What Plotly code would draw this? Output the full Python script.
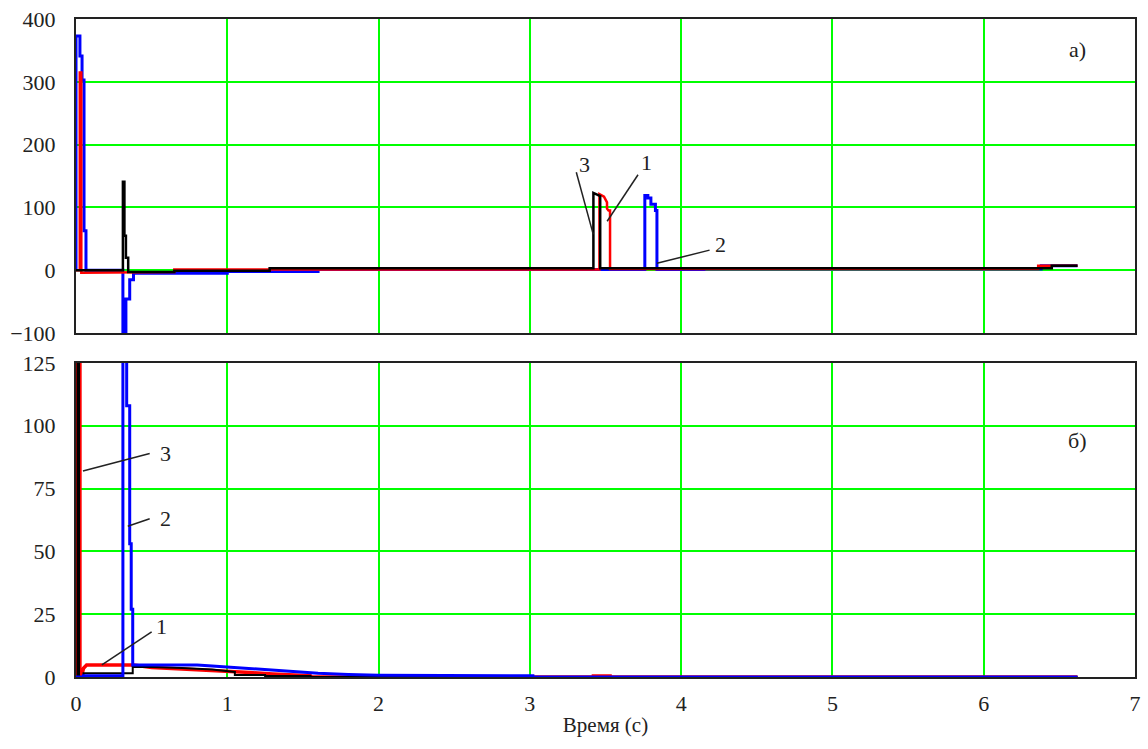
import plotly.graph_objects as go
from plotly.subplots import make_subplots

# ---------------- data: panel a) ----------------
a_t_blue = [0, 0, 0.026, 0.026, 0.04, 0.04, 0.053, 0.053, 0.066, 0.066, 0.31, 0.31, 0.33, 0.33, 0.355, 0.355,
            0.38, 0.38, 1.0, 1.0, 1.6, 1.6, 3.76, 3.76, 3.78, 3.78, 3.80, 3.80, 3.83, 3.83, 3.84, 3.84,
            4.15, 4.15, 6.38, 6.38, 6.62]
a_v_blue = [0, 373, 373, 341, 341, 303, 303, 63, 63, 0, 0, -130, -130, -46, -46, -15,
            -15, -5, -5, -2, -2, 1, 1, 119, 119, 115, 115, 105, 105, 95, 95, 1,
            1, 2, 2, 7, 7]

a_t_red = [0, 0.025, 0.025, 0.035, 0.035, 0.32, 0.32, 0.65, 0.65, 3.46, 3.46, 3.49, 3.51, 3.51, 3.52, 3.52, 3.53,
           3.53, 6.36, 6.36, 6.62]
a_v_red = [0, 0, 315, 315, -4, -4, -3, -3, 1, 1, 121, 117, 108, 98, 95, 95, 95,
           2, 2, 7, 7]

a_t_black = [0, 0.31, 0.31, 0.32, 0.32, 0.33, 0.33, 0.345, 0.345, 0.65, 0.65, 1.28, 1.28, 3.42, 3.42, 3.44, 3.465,
             3.465, 6.45, 6.45, 6.62]
a_v_black = [0, 0, 141, 141, 55, 55, 20, 20, -3, -3, -1, -1, 3, 3, 123, 121, 118,
             3, 3, 7, 7]

# ---------------- data: panel б) ----------------
b_t_red = [0, 0.004, 0.004, 0.026, 0.026, 0.035, 0.05, 0.07, 0.38, 0.5, 0.7, 0.85, 1.0, 1.15, 1.3, 1.45, 1.55,
           1.56, 3.42, 3.42, 3.53, 3.53, 6.62]
b_v_red = [0, 0, 140, 140, 0, 0, 3.5, 4.8, 4.8, 3.8, 3.2, 2.8, 2.4, 1.8, 1.2, 0.8, 0.5,
           0, 0, 0.4, 0.4, 0, 0]

b_t_black = [0, 0.01, 0.01, 0.02, 0.02, 0.05, 0.05, 0.375, 0.375, 0.5, 0.7, 0.9, 1.05, 1.05, 1.25, 1.25, 1.55,
             1.55, 6.62]
b_v_black = [0, 0, 140, 140, 0, 0, 1.5, 1.5, 4, 4, 3.6, 3, 2, 0.8, 0.8, 0.4, 0.4,
             0, 0]

b_t_blue = [0, 0.05, 0.05, 0.31, 0.31, 0.335, 0.335, 0.355, 0.355, 0.365, 0.365, 0.375, 0.375, 0.8, 0.9, 1.05,
            1.15, 1.3, 1.45, 1.6, 1.8, 2.0, 3.02, 3.02, 6.62]
b_v_blue = [0, 0, 0.5, 0.5, 140, 140, 108, 108, 53, 53, 27, 27, 4.8, 4.8, 4.4, 3.8,
            3.2, 2.6, 2.0, 1.5, 1.0, 0.7, 0.5, 0, 0]

a_yticks = [-100, 0, 100, 200, 300, 400]
b_yticks = [0, 25, 50, 75, 100, 125]
x_ticks = [0, 1, 2, 3, 4, 5, 6, 7]

BLUE = "#0000ff"
RED = "#ff0000"
BLACK = "#000000"
GRID = "#00ff00"
FONT = "'Liberation Serif', 'DejaVu Serif', serif"

fig = make_subplots(rows=2, cols=1, vertical_spacing=0.0455, shared_xaxes=False)

# panel a (top) : blue, red, black on top
fig.add_trace(go.Scatter(x=a_t_blue, y=a_v_blue, mode="lines", line=dict(color=BLUE, width=3), showlegend=False), row=1, col=1)
fig.add_trace(go.Scatter(x=a_t_red, y=a_v_red, mode="lines", line=dict(color=RED, width=2.5), showlegend=False), row=1, col=1)
fig.add_trace(go.Scatter(x=a_t_black, y=a_v_black, mode="lines", line=dict(color=BLACK, width=2.5), showlegend=False), row=1, col=1)

# panel b (bottom)
fig.add_trace(go.Scatter(x=b_t_red, y=b_v_red, mode="lines", line=dict(color=RED, width=3.5), showlegend=False), row=2, col=1)
fig.add_trace(go.Scatter(x=b_t_black, y=b_v_black, mode="lines", line=dict(color=BLACK, width=2), showlegend=False), row=2, col=1)
fig.add_trace(go.Scatter(x=b_t_blue, y=b_v_blue, mode="lines", line=dict(color=BLUE, width=3), showlegend=False), row=2, col=1)

axis_common = dict(showline=True, linecolor="#222222", linewidth=2, mirror=True,
                   showgrid=True, gridcolor=GRID, gridwidth=2, zeroline=False, ticks="",
                   tickfont=dict(family=FONT, size=22, color="#222222"))

fig.update_xaxes(range=[0, 7], tickvals=x_ticks, showticklabels=False, **axis_common, row=1, col=1)
fig.update_xaxes(range=[0, 7], tickvals=x_ticks, ticklabelstandoff=6,
                 title=dict(text="Время (с)", font=dict(family=FONT, size=21, color="#222222"), standoff=2),
                 **axis_common, row=2, col=1)
fig.update_yaxes(range=[-100, 400], tickvals=a_yticks, ticklabelstandoff=14, **axis_common, row=1, col=1)
fig.update_yaxes(range=[0, 125], tickvals=b_yticks, ticklabelstandoff=14, **axis_common, row=2, col=1)

# leader lines (data coords)
leaders = [
    ("x", "y", 3.307, 156, 3.419, 57),
    ("x", "y", 3.715, 152, 3.511, 78),
    ("x", "y", 4.188, 32, 3.84, 11),
    ("x2", "y2", 0.487, 89, 0.046, 82),
    ("x2", "y2", 0.487, 63, 0.342, 60),
    ("x2", "y2", 0.50, 18, 0.171, 4.8),
]
for xr, yr, x0, y0, x1, y1 in leaders:
    fig.add_shape(type="line", xref=xr, yref=yr, x0=x0, y0=y0, x1=x1, y1=y1,
                  line=dict(color="#222222", width=1.5))

labels = [
    ("x", "y", 3.36, 168, "3"),
    ("x", "y", 3.77, 171, "1"),
    ("x", "y", 4.26, 41, "2"),
    ("x", "y", 6.62, 352, "а)"),
    ("x2", "y2", 0.59, 89, "3"),
    ("x2", "y2", 0.59, 63, "2"),
    ("x2", "y2", 0.565, 20, "1"),
    ("x2", "y2", 6.62, 94, "б)"),
]
for xr, yr, x, y, txt in labels:
    fig.add_annotation(xref=xr, yref=yr, x=x, y=y, text=txt, showarrow=False,
                       font=dict(family=FONT, size=22, color="#222222"))

fig.update_layout(width=1148, height=749, margin=dict(l=76, r=7, t=17, b=72),
                  plot_bgcolor="white", paper_bgcolor="white", showlegend=False,
                  font=dict(family=FONT))

fig.write_html("out.html")
